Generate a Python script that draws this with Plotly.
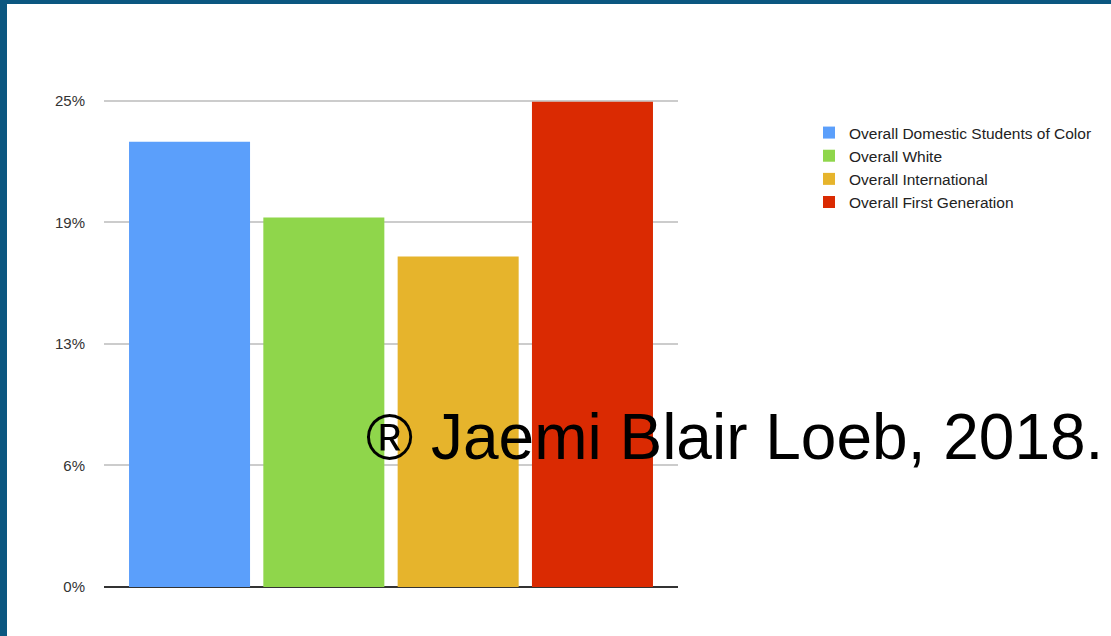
import plotly.graph_objects as go

# data
groups = [
    "Overall Domestic Students of Color",
    "Overall White",
    "Overall International",
    "Overall First Generation",
]
values = [22.9, 19.0, 17.0, 24.95]
colors = ["#5b9ffb", "#8fd64b", "#e6b42c", "#da2a02"]
tick_vals = [0, 6.25, 12.5, 18.75, 25]
tick_text = ["0%", "6%", "13%", "19%", "25%"]

W, H = 1111, 636
L, R, T, B = 104, 433, 95, 49
pw, ph = W - L - R, H - T - B


def px_x(x):
    return (x - L) / pw


def px_y(y):
    return (H - B - y) / ph


fig = go.Figure()
for name, val, col in zip(groups, values, colors):
    fig.add_trace(go.Bar(x=[""], y=[val], name=name, marker=dict(color=col, line=dict(width=0))))

border = "#0b5780"
fig.add_shape(type="rect", xref="paper", yref="paper", x0=px_x(0), x1=px_x(W), y0=px_y(0), y1=px_y(4),
              fillcolor=border, line=dict(width=0), layer="above")
fig.add_shape(type="rect", xref="paper", yref="paper", x0=px_x(0), x1=px_x(7), y0=px_y(0), y1=px_y(H),
              fillcolor=border, line=dict(width=0), layer="above")

fig.add_annotation(text="® Jaemi Blair Loeb, 2018.", xref="paper", yref="paper",
                   x=px_x(364), y=px_y(437), xanchor="left", yanchor="middle", showarrow=False,
                   font=dict(family="Liberation Sans, Arial", size=64, color="black"))

fig.update_layout(
    width=W, height=H,
    margin=dict(l=L, r=R, t=T, b=B),
    barmode="group", bargap=0.064, bargroupgap=0.099,
    plot_bgcolor="white", paper_bgcolor="white",
    showlegend=True,
    legend=dict(x=px_x(809), y=px_y(116), xanchor="left", yanchor="top",
                font=dict(family="Liberation Sans, Arial", size=15.5, color="#222"),
                tracegroupgap=0, itemwidth=30),
    xaxis=dict(showticklabels=False, showgrid=False, zeroline=False, showline=False),
    yaxis=dict(range=[0, 25.3], tickvals=tick_vals, ticktext=tick_text, showgrid=True,
               gridcolor="#cccccc", gridwidth=1.5, zeroline=True, zerolinecolor="#333333", zerolinewidth=2,
               ticks="", ticklabelstandoff=18,
               tickfont=dict(family="Liberation Sans, Arial", size=15, color="#333")),
)

fig.write_html("out.html", config={"displayModeBar": False},
               post_script="document.body.style.margin='0';")
